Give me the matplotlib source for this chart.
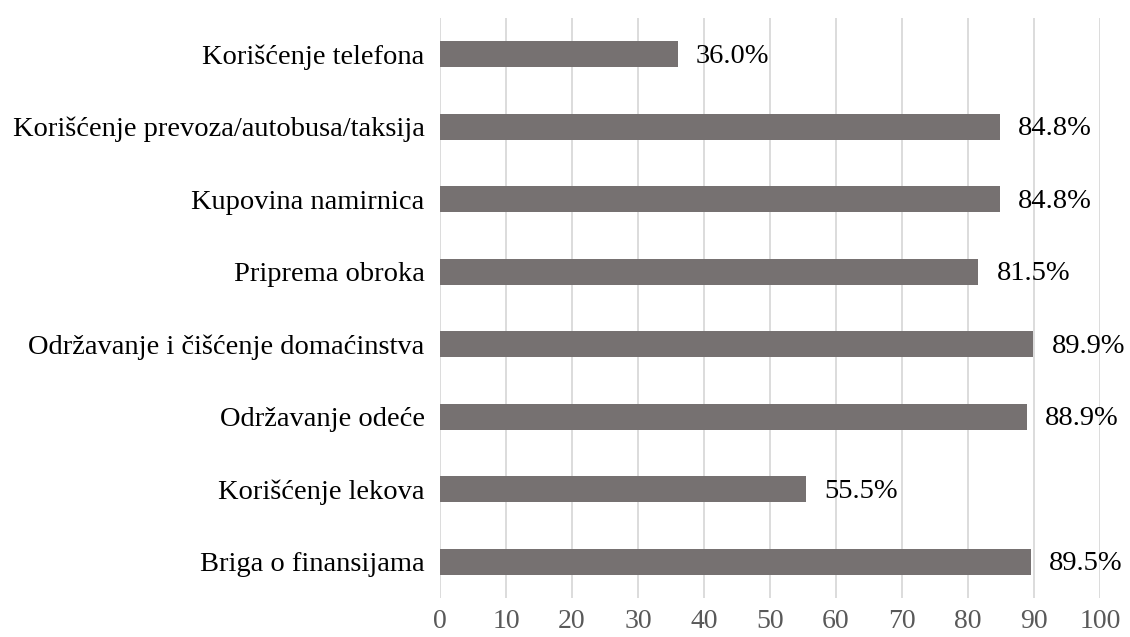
import matplotlib
matplotlib.use("Agg")
import matplotlib.pyplot as plt

categories = [
    "Korišćenje telefona",
    "Korišćenje prevoza/autobusa/taksija",
    "Kupovina namirnica",
    "Priprema obroka",
    "Održavanje i čišćenje domaćinstva",
    "Održavanje odeće",
    "Korišćenje lekova",
    "Briga o finansijama",
]
values = [36.0, 84.8, 84.8, 81.5, 89.9, 88.9, 55.5, 89.5]
xticks = [0, 10, 20, 30, 40, 50, 60, 70, 80, 90, 100]

plt.rcParams['font.family'] = ['Liberation Serif', 'DejaVu Serif']

fig = plt.figure(figsize=(11.3, 6.37), dpi=100)
ax = fig.add_axes([440/1130, 1 - 598/637, 660/1130, 580/637])

y = list(range(len(categories)))
ax.barh(y, values, height=0.36, color='#767171', zorder=3)
for yi, v in zip(y, values):
    ax.text(v + 2.8, yi + 0.03, f"{v:.1f}%", va='center', ha='left', fontsize=20.5, color='black')

ax.set_xlim(0, 100)
ax.set_ylim(len(categories) - 0.5, -0.5)
ax.set_yticks(y)
ax.set_yticklabels(categories, fontsize=20.5, color='black')
ax.set_xticks(xticks)
ax.set_xticklabels([str(t) for t in xticks], fontsize=20, color='#595959')
ax.tick_params(axis='both', length=0)
ax.tick_params(axis='x', pad=8)
ax.tick_params(axis='y', pad=11)
ax.xaxis.grid(True, color='#d9d9d9', linewidth=1.3, zorder=0)
for s in ax.spines.values():
    s.set_visible(False)

fig.savefig("out.png", dpi=100)
